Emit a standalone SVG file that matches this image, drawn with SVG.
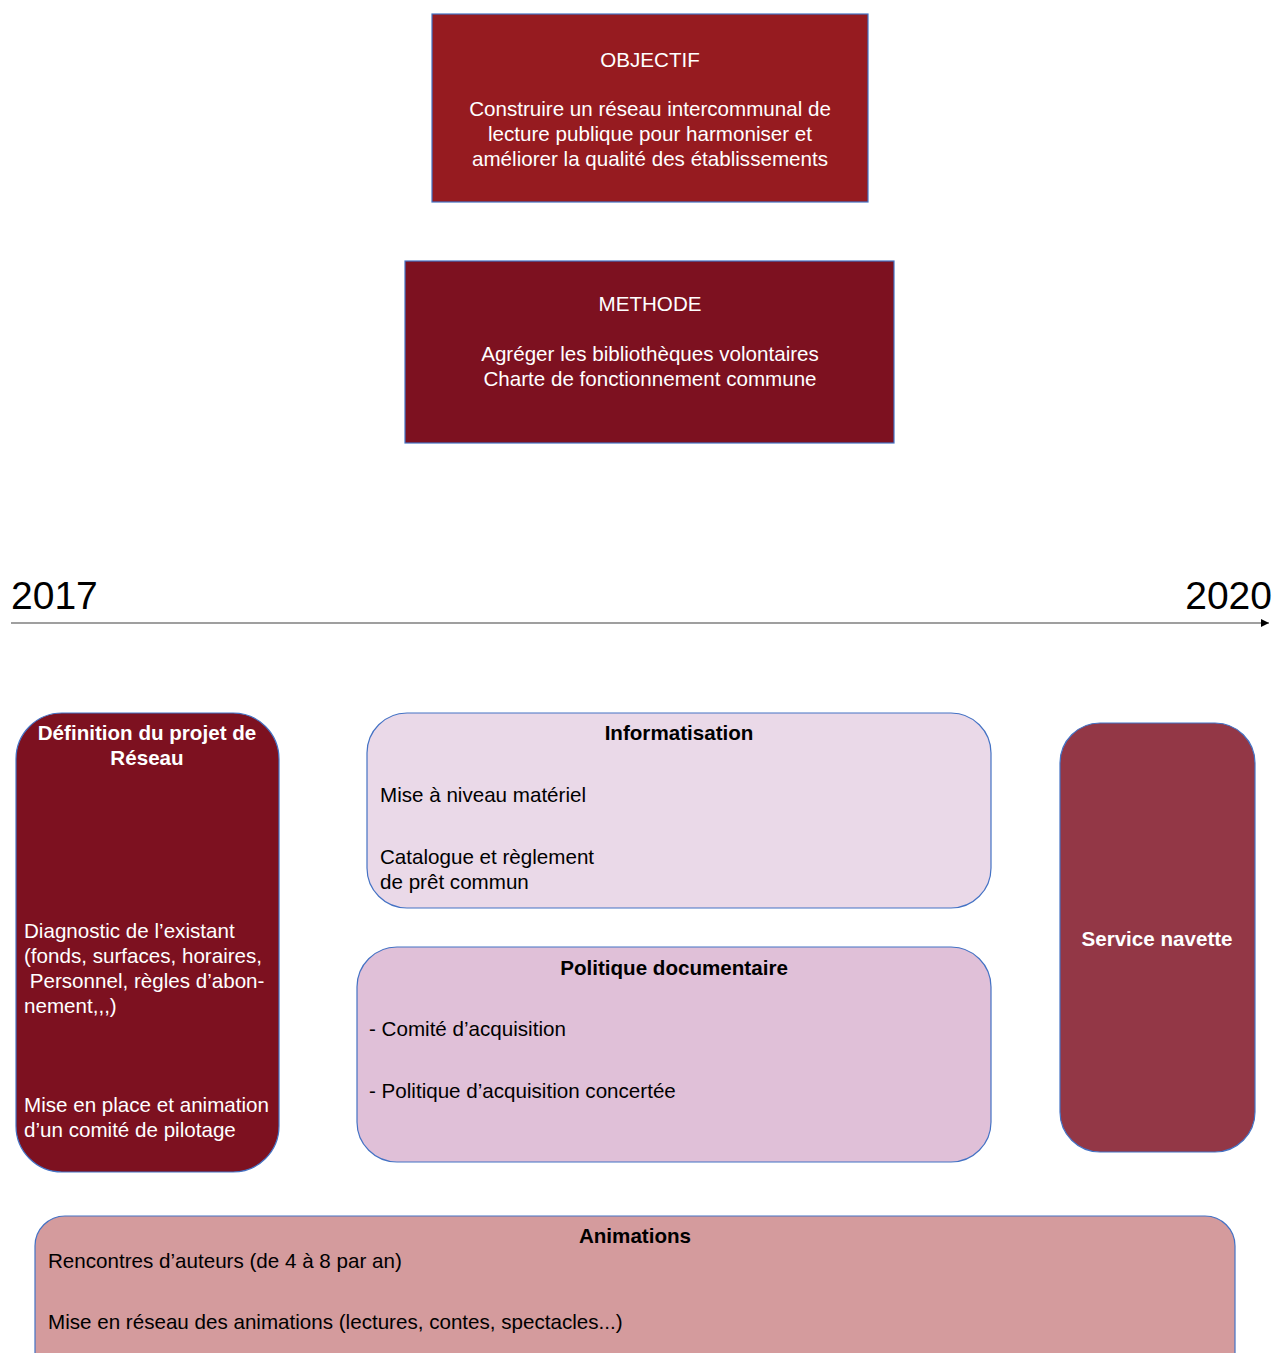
<svg xmlns="http://www.w3.org/2000/svg" width="1274" height="1353" viewBox="0 0 1274 1353">
<style>
text{font-family:"Liberation Sans",Arial,sans-serif;font-size:20.6px}
.w{fill:#ffffff}
.k{fill:#000000}
.b{font-weight:bold}
.c{text-anchor:middle}
.box{stroke:#4472c4;stroke-width:1.2}
</style>
<defs>
<marker id="ah" markerWidth="8" markerHeight="8" refX="8" refY="4" orient="auto" markerUnits="userSpaceOnUse">
<path d="M0,0 L8,4 L0,8 Z" fill="#000"/>
</marker>
</defs>
<rect width="1274" height="1353" fill="#ffffff"/>

<g id="objectif">
<rect class="box" x="432" y="14" width="436" height="188" fill="#961b20"/>
<text class="w c" x="650" y="67">OBJECTIF</text>
<text class="w c" x="650" y="116">Construire un réseau intercommunal de</text>
<text class="w c" x="650" y="141">lecture publique pour harmoniser et</text>
<text class="w c" x="650" y="166">améliorer la qualité des établissements</text>
</g>

<g id="methode">
<rect class="box" x="405" y="261" width="489" height="182" fill="#7d1120"/>
<text class="w c" x="650" y="311">METHODE</text>
<text class="w c" x="650" y="361">Agréger les bibliothèques volontaires</text>
<text class="w c" x="650" y="386">Charte de fonctionnement commune</text>
</g>

<g id="timeline">
<text class="k" x="11" y="609" style="font-size:39px">2017</text>
<text class="k" x="1272" y="609" style="font-size:39px;text-anchor:end">2020</text>
</g>

<g id="connectors">
<line x1="11" y1="623" x2="1269" y2="623" stroke="#7f7f7f" stroke-width="1.5" marker-end="url(#ah)"/>
</g>

<g id="definition">
<rect class="box" x="16" y="713" width="263" height="459" rx="46" fill="#7d1120"/>
<text class="w c b" x="147" y="740">Définition du projet de</text>
<text class="w c b" x="147" y="765">Réseau</text>
<text class="w" x="24" y="938">Diagnostic de l’existant</text>
<text class="w" x="24" y="963">(fonds, surfaces, horaires,</text>
<text class="w" x="24" y="988" xml:space="preserve"> Personnel, règles d’abon-</text>
<text class="w" x="24" y="1013">nement,,,)</text>
<text class="w" x="24" y="1112">Mise en place et animation</text>
<text class="w" x="24" y="1137">d’un comité de pilotage</text>
</g>

<g id="informatisation">
<rect class="box" x="367" y="713" width="624" height="195" rx="40" fill="#ead9e8"/>
<text class="k c b" x="679" y="740">Informatisation</text>
<text class="k" x="380" y="802">Mise à niveau matériel</text>
<text class="k" x="380" y="864">Catalogue et règlement</text>
<text class="k" x="380" y="889">de prêt commun</text>
</g>

<g id="politique">
<rect class="box" x="357" y="947" width="634" height="215" rx="40" fill="#e0c0d8"/>
<text class="k c b" x="674" y="975">Politique documentaire</text>
<text class="k" x="369" y="1036">- Comité d’acquisition</text>
<text class="k" x="369" y="1098">- Politique d’acquisition concertée</text>
</g>

<g id="navette">
<rect class="box" x="1060" y="723" width="195" height="429" rx="40" fill="#933746"/>
<text class="w c b" x="1157" y="946">Service navette</text>
</g>

<g id="animations">
<rect class="box" x="35" y="1216" width="1200" height="170" rx="30" fill="#d49b9d"/>
<text class="k c b" x="635" y="1243">Animations</text>
<text class="k" x="48" y="1268">Rencontres d’auteurs (de 4 à 8 par an)</text>
<text class="k" x="48" y="1329">Mise en réseau des animations (lectures, contes, spectacles...)</text>
</g>
</svg>
